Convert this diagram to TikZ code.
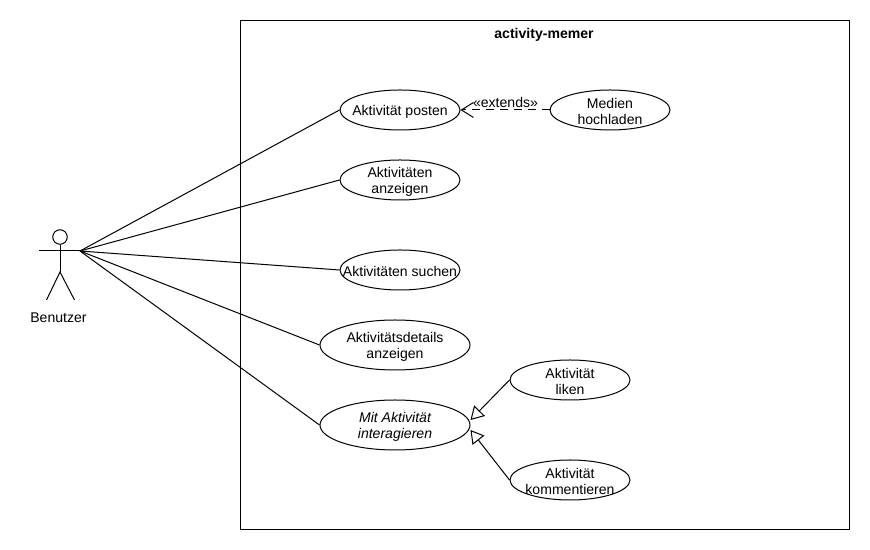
\documentclass[tikz,border=0pt]{standalone}
\usepackage{fontspec}
\setmainfont{Liberation Sans}
\usepackage{tikz}
\usetikzlibrary{shapes.geometric}
\usetikzlibrary{arrows.meta}

\newcommand{\firstline}{\rule{0pt}{7.6pt}}

\begin{document}
\begin{tikzpicture}[line width=0.02cm,
        font=\fontsize{8pt}{9.1pt}\selectfont,
        usecase/.style={draw, ellipse, align=center, inner sep=-1cm, minimum width=2.4cm, minimum height=0.8cm},
        usecasewide/.style={usecase, minimum width=3cm, minimum height=1cm},
        generalize/.style={-{Triangle[open, fill=white, length=0.26cm, width=0.3cm]}},
        extend/.style={dash pattern=on 0.16cm off 0.12cm, -{Straight Barb[length=0.24cm, width=0.3cm]}}]
        \useasboundingbox (0,0) rectangle (17.4,11);

        % System boundary
        \node at (10.896,5.502) [draw, minimum width=12.18cm, minimum height=10.18cm, inner sep=0] (system) {};
        \node at (10.88,10.31) (title) {\textbf{activity-memer}};

        % Actor
        \node at (1.2,6.26) [draw, circle, minimum size=0.29cm, inner sep=0] (head) {};
        \coordinate (armL) at (0.78,5.98);
        \coordinate (hand) at (1.6,5.98);
        \coordinate (hip) at (1.2,5.56);
        \coordinate (footL) at (0.93,5);
        \coordinate (footR) at (1.49,5);
        \draw (head.south) -- (hip);
        \draw (armL) -- (hand);
        \draw (footL) -- (hip) -- (footR);
        \node at (1.17,4.64) (benutzer) {Benutzer};

        % Use cases
        \node at (8,8.8) [usecase] (posten) {\firstline Aktivität posten};
        \node at (8,7.4) [usecase] (anzeigen) {\firstline Aktivitäten\\anzeigen};
        \node at (8,5.6) [usecase] (suchen) {\firstline Aktivitäten suchen};
        \node at (7.9,4.1) [usecasewide] (details) {\firstline Aktivitätsdetails\\anzeigen};
        \node at (7.9,2.5) [usecasewide] (interact) {\firstline\itshape Mit Aktivität\\\itshape interagieren};
        \node at (12.2,8.8) [usecase] (medien) {\firstline Medien\\hochladen};
        \node at (11.4,3.4) [usecase] (liken) {\firstline Aktivität\\liken};
        \node at (11.4,1.4) [usecase] (kommentieren) {\firstline Aktivität\\kommentieren};

        % Arrows from actor
        \draw (hand) -- (posten.west);
        \draw (hand) -- (anzeigen.west);
        \draw (hand) -- (suchen.west);
        \draw (hand) -- (details.west);
        \draw (hand) -- (interact.west);

        % Extends
        \draw[extend] (medien.west) -- (posten.east);
        \node at (10.11,8.96) (extends) {«extends»};

        % Generalization
        \draw[generalize] (liken.west) -- ([yshift=0.1cm]interact.east);
        \draw[generalize] (kommentieren.west) -- ([yshift=-0.1cm]interact.east);
\end{tikzpicture}
\end{document}
